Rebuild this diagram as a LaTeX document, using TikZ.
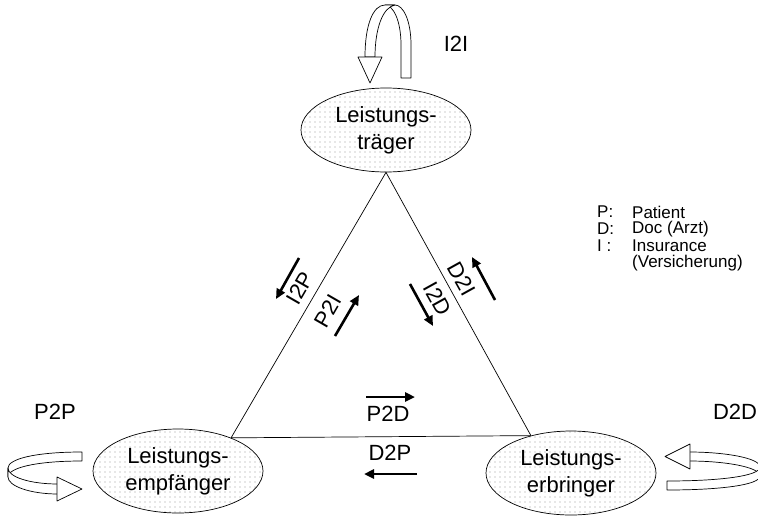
\documentclass[tikz,border=0pt]{standalone}
\usepackage{fontspec}
\setmainfont{Liberation Sans}
\usetikzlibrary{shapes.geometric,arrows.meta,patterns.meta}
\begin{document}
\begin{tikzpicture}[x=1pt,y=-1pt,
  place/.style={ellipse, draw, line width=0.7pt, minimum width=170pt, minimum height=84pt, inner sep=0pt, align=center, font=\fontsize{22}{27}\selectfont, preaction={fill=white}, pattern={Dots[distance=5pt,radius=0.55pt]}, pattern color=black!40},
  edge/.style={line width=0.7pt},
  lbl/.style={font=\fontsize{22}{26}\selectfont, inner sep=0pt},
  flow/.style={line width=2.6pt, -{Triangle[length=10pt,width=9pt]}},
  band/.style={draw, fill=white, line width=0.7pt, line join=round},
  legend/.style={font=\fontsize{17}{17}\selectfont, anchor=west, inner sep=0pt}
]
\clip (0,0) rectangle (758,517);
\fill[white] (0,0) rectangle (758,517);

% nodes
\node[place] (top) at (386,130) {Leistungs-\\träger};
\node[place] (le) at (178,471) {Leistungs-\\empfänger};
\node[place] (re) at (571,473) {Leistungs-\\erbringer};

% triangle
\draw[edge] (top.south) -- (le.32);
\draw[edge] (top.south) -- (re.137);
\draw[edge] (le.32) -- (re.137);

% edge labels
\node[lbl, rotate=60] (i2p) at (300,288) {I2P};
\node[lbl, rotate=60] (p2i) at (328,311) {P2I};
\node[lbl, rotate=-61] (i2d) at (438,299) {I2D};
\node[lbl, rotate=-61] (d2i) at (462,279) {D2I};
\node[lbl] (p2d) at (388,414) {P2D};
\node[lbl] (d2p) at (390,453) {D2P};

% flow arrows
\coordinate (i2pA) at (299,258); \coordinate (i2pB) at (276,299);
\coordinate (p2iA) at (335,336); \coordinate (p2iB) at (359,295);
\coordinate (i2dA) at (410,284); \coordinate (i2dB) at (433,326);
\coordinate (d2iA) at (495,300); \coordinate (d2iB) at (472,257);
\coordinate (p2dA) at (366,397); \coordinate (p2dB) at (415,397);
\coordinate (d2pA) at (417,474); \coordinate (d2pB) at (364,474);
\draw[flow] (i2pA) -- (i2pB);
\draw[flow] (p2iA) -- (p2iB);
\draw[flow] (i2dA) -- (i2dB);
\draw[flow] (d2iA) -- (d2iB);
\draw[flow] (p2dA) -- (p2dB);
\draw[flow] (d2pA) -- (d2pB);

% loop labels
\node[lbl] (i2i) at (456,44) {I2I};
\node[lbl] (p2p) at (55,412) {P2P};
\node[lbl] (d2d) at (735,412) {D2D};

% top loop (I2I)
\draw[band] (401,78) -- (401,45) .. controls (401,20) and (393,5) .. (385,5) -- (395,5) .. controls (403,5) and (411,20) .. (411,45) -- (411,78) -- cycle;
\draw[band] (385,5) .. controls (373,5) and (365,25) .. (365,57) -- (375,57) .. controls (375,28) and (383,7) .. (395,5) -- cycle;
\draw[band] (358,57) -- (382,57) -- (370,83) -- cycle;

% left loop (P2P)
\draw[band] (82,452) .. controls (35,452) and (8,459) .. (8,468) -- (8,477) .. controls (8,468) and (35,461) .. (82,461) -- cycle;
\draw[band] (8,468) .. controls (8,477) and (30,484) .. (58,484) -- (58,494) .. controls (30,494) and (8,486) .. (8,477) -- cycle;
\draw[band] (57,477) -- (82,489) -- (57,501) -- cycle;

% right loop (D2D)
\draw[band] (689,452) .. controls (725,452) and (760,458) .. (760,467) -- (760,476) .. controls (760,467) and (725,461) .. (689,461) -- cycle;
\draw[band] (760,467) .. controls (760,476) and (720,481) .. (667,481) -- (667,490) .. controls (720,490) and (760,485) .. (760,476) -- cycle;
\draw[band] (690,444) -- (665,456.5) -- (690,469) -- cycle;

% legend
\node[legend] (lpk) at (597,212) {P:};
\node[legend] (lpv) at (632,212) {Patient};
\node[legend] (ldk) at (597,229) {D:};
\node[legend] (ldv) at (632,229) {Doc (Arzt)};
\node[legend] (lik) at (597,246) {I :};
\node[legend] (liv) at (632,246) {Insurance};
\node[legend] (liv2) at (632,263) {(Versicherung)};
\end{tikzpicture}
\end{document}
